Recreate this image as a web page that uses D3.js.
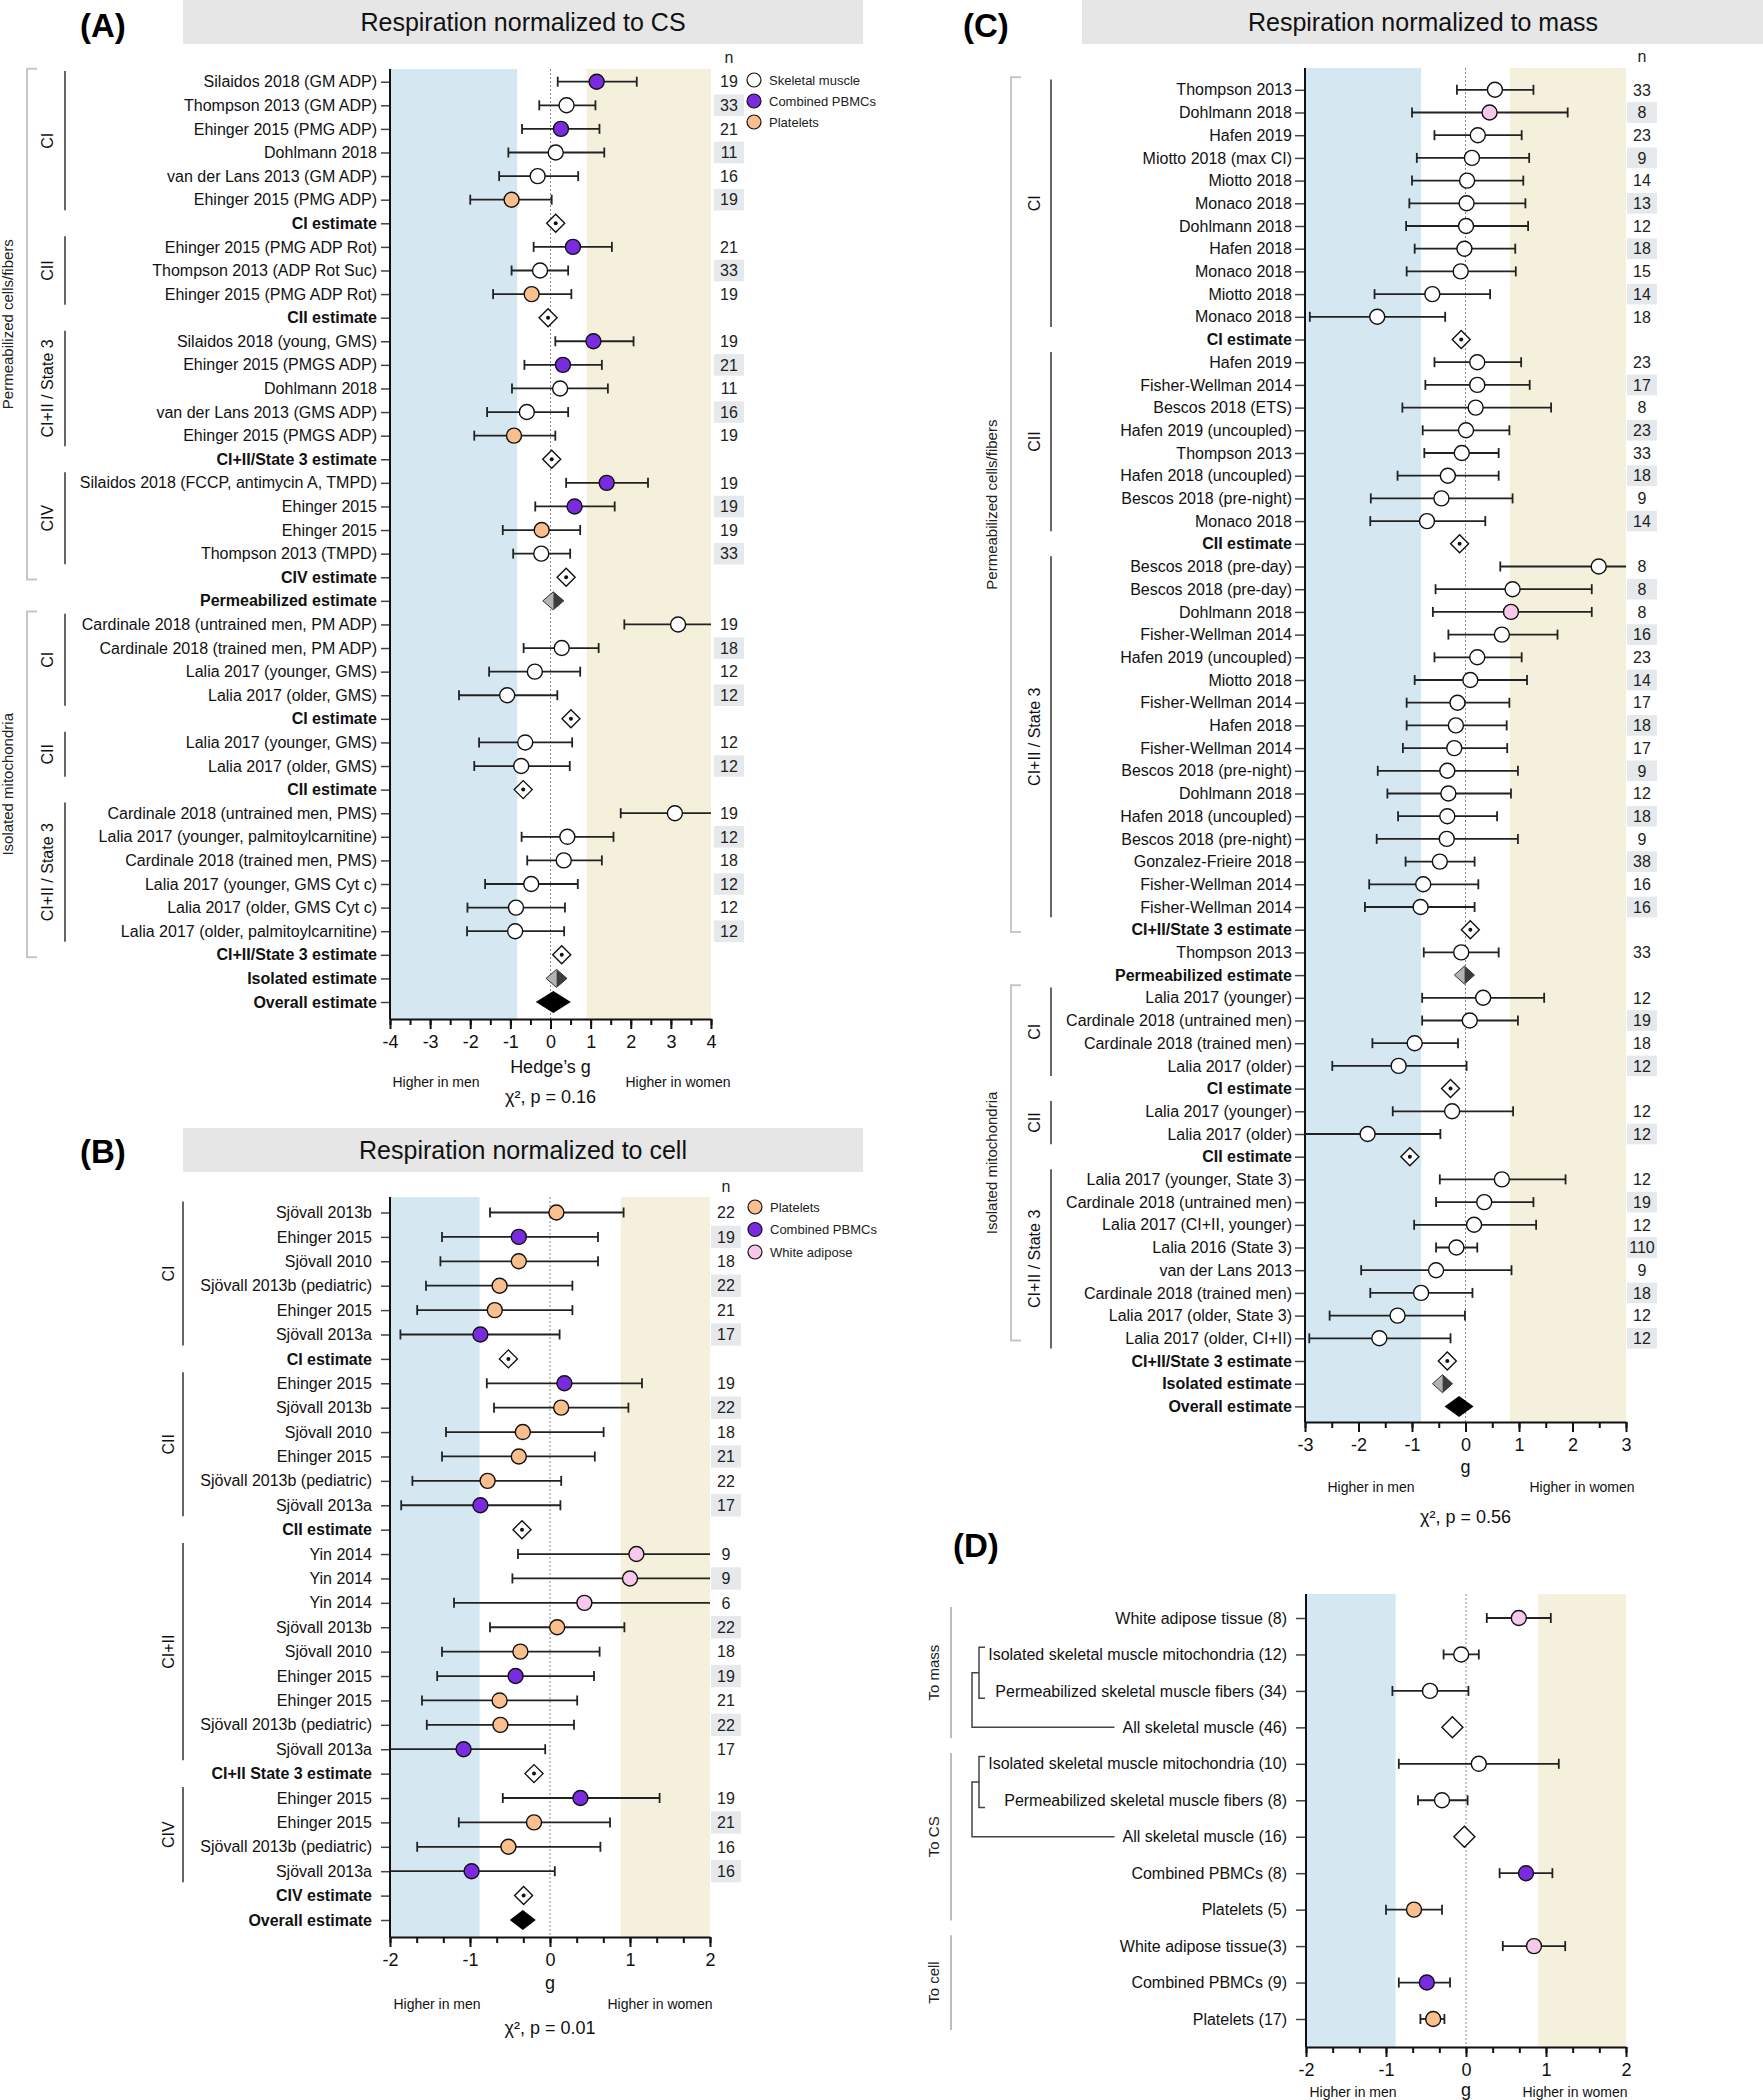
<!DOCTYPE html>
<html><head><meta charset="utf-8">
<script src="https://cdn.jsdelivr.net/npm/d3@7"></script>
<style>body{margin:0;background:#fff;} svg text{font-family:"Liberation Sans",Arial,Helvetica,sans-serif;}</style>
</head><body>
<svg id="c" width="1763" height="2100"></svg>
<script>
// ---------------- DATA ----------------
// kinds: S skeletal muscle, P combined PBMCs, L platelets, W white adipose,
//        E subgroup estimate, H cell-prep estimate, O overall estimate, D pooled tissue estimate
const A_labels = ["Silaidos 2018 (GM ADP)","Thompson 2013 (GM ADP)","Ehinger 2015 (PMG ADP)","Dohlmann 2018","van der Lans 2013 (GM ADP)","Ehinger 2015 (PMG ADP)","CI estimate",
"Ehinger 2015 (PMG ADP Rot)","Thompson 2013 (ADP Rot Suc)","Ehinger 2015 (PMG ADP Rot)","CII estimate",
"Silaidos 2018 (young, GMS)","Ehinger 2015 (PMGS ADP)","Dohlmann 2018","van der Lans 2013 (GMS ADP)","Ehinger 2015 (PMGS ADP)","CI+II/State 3 estimate",
"Silaidos 2018 (FCCP, antimycin A, TMPD)","Ehinger 2015","Ehinger 2015","Thompson 2013 (TMPD)","CIV estimate",
"Permeabilized estimate",
"Cardinale 2018 (untrained men, PM ADP)","Cardinale 2018 (trained men, PM ADP)","Lalia 2017 (younger, GMS)","Lalia 2017 (older, GMS)","CI estimate",
"Lalia 2017 (younger, GMS)","Lalia 2017 (older, GMS)","CII estimate",
"Cardinale 2018 (untrained men, PMS)","Lalia 2017 (younger, palmitoylcarnitine)","Cardinale 2018 (trained men, PMS)","Lalia 2017 (younger, GMS Cyt c)","Lalia 2017 (older, GMS Cyt c)","Lalia 2017 (older, palmitoylcarnitine)","CI+II/State 3 estimate",
"Isolated estimate","Overall estimate"];
const A_kind = "PSPSSLEPSLEPPSSLEPPLSEHSSSSESSESSSSSSEHO".split("");
const A_g  = [1.15,0.40,0.26,0.13,-0.32,-0.97,0.13, 0.56,-0.26,-0.47,-0.06, 1.07,0.31,0.24,-0.59,-0.91,0.03, 1.40,0.60,-0.22,-0.23,0.39, 0.07, 3.18,0.28,-0.39,-1.08,0.51, -0.63,-0.73,-0.68, 3.10,0.42,0.33,-0.48,-0.86,-0.88,0.28, 0.15,0.07];
const A_lo = [0.18,-0.28,-0.71,-1.05,-1.28,-2.00,null, -0.42,-0.97,-1.43,null, 0.12,-0.65,-0.96,-1.58,-1.90,null, 0.39,-0.38,-1.19,-0.93,null, null, 1.84,-0.67,-1.53,-2.28,null, -1.78,-1.90,null, 1.75,-0.72,-0.58,-1.63,-2.07,-2.08,null, null,null];
const A_hi = [2.15,1.12,1.22,1.34,0.69,0.03,null, 1.53,0.44,0.52,null, 2.07,1.28,1.43,0.44,0.12,null, 2.43,1.60,0.74,0.49,null, null, 4.60,1.20,0.74,0.17,null, 0.54,0.48,null, 4.50,1.57,1.28,0.68,0.36,0.34,null, null,null];
const A_n  = [19,33,21,11,16,19,null, 21,33,19,null, 19,21,11,16,19,null, 19,19,19,33,null, null, 19,18,12,12,null, 12,12,null, 19,12,18,12,12,12,null, null,null];
const A_inner = [["CI",0,5],["CII",7,9],["CI+II / State 3",11,15],["CIV",17,20],["CI",23,26],["CII",28,29],["CI+II / State 3",31,36]];
const A_outer = [["Permeabilized cells/fibers",0,21],["Isolated mitochondria",23,37]];
const A_bands = [-0.83, 0.90];
const A_ticks = [-4,-3,-2,-1,0,1,2,3,4];
const A_legend = [["S","Skeletal muscle"],["P","Combined PBMCs"],["L","Platelets"]];

const B_labels = ["Sjövall 2013b","Ehinger 2015","Sjövall 2010","Sjövall 2013b (pediatric)","Ehinger 2015","Sjövall 2013a","CI estimate",
"Ehinger 2015","Sjövall 2013b","Sjövall 2010","Ehinger 2015","Sjövall 2013b (pediatric)","Sjövall 2013a","CII estimate",
"Yin 2014","Yin 2014","Yin 2014","Sjövall 2013b","Sjövall 2010","Ehinger 2015","Ehinger 2015","Sjövall 2013b (pediatric)","Sjövall 2013a","CI+II State 3 estimate",
"Ehinger 2015","Ehinger 2015","Sjövall 2013b (pediatric)","Sjövall 2013a","CIV estimate","Overall estimate"];
const B_kind = "LPLLLPEPLLLLPEWWWLLPLLPEPLLPEO".split("");
const B_g  = [0.08,-0.39,-0.39,-0.63,-0.69,-0.87,-0.52, 0.18,0.14,-0.34,-0.39,-0.78,-0.87,-0.35, 1.08,1.00,0.43,0.09,-0.37,-0.43,-0.63,-0.62,-1.08,-0.20, 0.38,-0.20,-0.52,-0.98,-0.33, -0.34];
const B_lo = [-0.75,-1.35,-1.37,-1.55,-1.66,-1.87,null, -0.79,-0.70,-1.30,-1.35,-1.72,-1.86,null, -0.40,-0.47,-1.20,-0.75,-1.35,-1.41,-1.60,-1.54,-2.20,null, -0.59,-1.14,-1.66,-2.20,null, null];
const B_hi = [0.92,0.60,0.60,0.28,0.28,0.12,null, 1.15,0.98,0.67,0.56,0.14,0.13,null, 2.60,2.60,2.60,0.93,0.62,0.55,0.34,0.30,-0.06,null, 1.37,0.75,0.63,0.06,null, null];
const B_n  = [22,19,18,22,21,17,null, 19,22,18,21,22,17,null, 9,9,6,22,18,19,21,22,17,null, 19,21,16,16,null, null];
const B_inner = [["CI",0,5],["CII",7,12],["CI+II",14,22],["CIV",24,27]];
const B_bands = [-0.88, 0.885];
const B_ticks = [-2,-1,0,1,2];
const B_legend = [["L","Platelets"],["P","Combined PBMCs"],["W","White adipose"]];

const C_labels = ["Thompson 2013","Dohlmann 2018","Hafen 2019","Miotto 2018 (max CI)","Miotto 2018","Monaco 2018","Dohlmann 2018","Hafen 2018","Monaco 2018","Miotto 2018","Monaco 2018","CI estimate",
"Hafen 2019","Fisher-Wellman 2014","Bescos 2018 (ETS)","Hafen 2019 (uncoupled)","Thompson 2013","Hafen 2018 (uncoupled)","Bescos 2018 (pre-night)","Monaco 2018","CII estimate",
"Bescos 2018 (pre-day)","Bescos 2018 (pre-day)","Dohlmann 2018","Fisher-Wellman 2014","Hafen 2019 (uncoupled)","Miotto 2018","Fisher-Wellman 2014","Hafen 2018","Fisher-Wellman 2014","Bescos 2018 (pre-night)","Dohlmann 2018","Hafen 2018 (uncoupled)","Bescos 2018 (pre-night)","Gonzalez-Frieire 2018","Fisher-Wellman 2014","Fisher-Wellman 2014","CI+II/State 3 estimate",
"Thompson 2013","Permeabilized estimate",
"Lalia 2017 (younger)","Cardinale 2018 (untrained men)","Cardinale 2018 (trained men)","Lalia 2017 (older)","CI estimate",
"Lalia 2017 (younger)","Lalia 2017 (older)","CII estimate",
"Lalia 2017 (younger, State 3)","Cardinale 2018 (untrained men)","Lalia 2017 (CI+II, younger)","Lalia 2016 (State 3)","van der Lans 2013","Cardinale 2018 (trained men)","Lalia 2017 (older, State 3)","Lalia 2017 (older, CI+II)","CI+II/State 3 estimate",
"Isolated estimate","Overall estimate"];
const C_kind = ("SWSSSSSSSSSE"+"SSSSSSSSE"+"SSWSSSSSSSSSSSSSE"+"SH"+"SSSSE"+"SSE"+"SSSSSSSSE"+"HO").split("");
const C_g  = [0.55,0.45,0.23,0.12,0.03,0.02,0.01,-0.02,-0.09,-0.62,-1.65,-0.08,
0.22,0.22,0.19,0.01,-0.07,-0.33,-0.45,-0.72,-0.11,
2.49,0.88,0.85,0.68,0.22,0.09,-0.15,-0.18,-0.21,-0.34,-0.32,-0.34,-0.35,-0.48,-0.79,-0.84,0.09,
-0.08,-0.02,
0.33,0.08,-0.95,-1.25,-0.28,
-0.25,-1.83,-1.04,
0.68,0.35,0.16,-0.17,-0.55,-0.83,-1.27,-1.61,-0.34,
-0.43,-0.12];
const C_lo = [-0.16,-1.00,-0.58,-0.91,-1.00,-1.05,-1.11,-0.95,-1.10,-1.70,-2.91,null,
-0.58,-0.75,-1.18,-0.80,-0.77,-1.27,-1.77,-1.78,null,
0.65,-0.56,-0.61,-0.32,-0.58,-0.95,-1.10,-1.10,-1.17,-1.64,-1.46,-1.26,-1.66,-1.12,-1.80,-1.88,null,
-0.78,null,
-0.81,-0.81,-1.74,-2.49,null,
-1.36,-3.20,null,
-0.48,-0.55,-0.96,-0.55,-1.95,-1.78,-2.54,-2.92,null,
null,null];
const C_hi = [1.27,1.91,1.05,1.19,1.08,1.12,1.17,0.93,0.94,0.46,-0.38,null,
1.04,1.20,1.60,0.82,0.62,0.62,0.88,0.37,null,
3.40,2.36,2.36,1.72,1.05,1.15,0.82,0.77,0.78,0.98,0.85,0.59,0.98,0.17,0.24,0.17,null,
0.62,null,
1.47,0.98,-0.14,0.02,null,
0.89,-0.47,null,
1.87,1.27,1.32,0.22,0.86,0.13,-0.01,-0.28,null,
null,null];
const C_n  = [33,8,23,9,14,13,12,18,15,14,18,null,
23,17,8,23,33,18,9,14,null,
8,8,8,16,23,14,17,18,17,9,12,18,9,38,16,16,null,
33,null,
12,19,18,12,null,
12,12,null,
12,19,12,110,9,18,12,12,null,
null,null];
const C_inner = [["CI",0,10],["CII",12,19],["CI+II / State 3",21,36],["CI",40,43],["CII",45,46],["CI+II / State 3",48,55]];
const C_outer = [["Permeabilized cells/fibers",0,37],["Isolated mitochondria",40,55]];
const C_bands = [-0.83, 0.83];
const C_ticks = [-3,-2,-1,0,1,2,3];

const D_labels = ["White adipose tissue (8)","Isolated skeletal muscle mitochondria (12)","Permeabilized skeletal muscle fibers (34)","All skeletal muscle (46)","Isolated skeletal muscle mitochondria (10)","Permeabilized skeletal muscle fibers (8)","All skeletal muscle (16)","Combined PBMCs (8)","Platelets (5)","White adipose tissue(3)","Combined PBMCs (9)","Platelets (17)"];
const D_kind = "WSSDSSDPLWPL".split("");
const D_g  = [0.66,-0.06,-0.45,-0.17,0.16,-0.30,-0.02,0.75,-0.65,0.85,-0.49,-0.41];
const D_lo = [0.26,-0.28,-0.92,null,-0.84,-0.60,null,0.42,-1.00,0.46,-0.84,-0.57];
const D_hi = [1.06,0.16,0.03,null,1.16,0.02,null,1.08,-0.30,1.24,-0.20,-0.27];
const D_groups = [["To mass",0,3],["To CS",4,8],["To cell",9,11]];
const D_sub = [[1,2,3],[4,5,6]];
const D_bands = [-0.88, 0.90];
const D_ticks = [-2,-1,0,1,2];

// ---------------- DRAWING ----------------
const svg = d3.select("#c");
const FILL = {S:"#ffffff", P:"#7a2be0", L:"#fbbf8d", W:"#f8c8ec"};
const INK = "#111";

function diamond(g, cx, cy, hw, hh) {
  return g.append("polygon").attr("points", [[cx,cy-hh],[cx+hw,cy],[cx,cy+hh],[cx-hw,cy]].map(p=>p.join(",")).join(" "));
}

function panel(o) {
  const g = svg.append("g");
  const N = o.labels.length, idx = d3.range(N);
  const [d0, d1] = o.domain;
  const x = d3.scaleLinear().domain(o.domain).range(o.xr);
  const y = d3.scalePoint().domain(idx).range(o.yr);
  const step = y.step();
  // bands
  g.append("rect").attr("x", x(d0)).attr("y", o.top).attr("width", x(o.bands[0]) - x(d0)).attr("height", o.axisY - o.top).attr("fill", "#d5e7f1");
  g.append("rect").attr("x", x(o.bands[1])).attr("y", o.top).attr("width", x(d1) - x(o.bands[1])).attr("height", o.axisY - o.top).attr("fill", "#f5f0dc");
  // zero line
  g.append("line").attr("x1", x(0)).attr("x2", x(0)).attr("y1", o.top).attr("y2", o.axisY)
    .attr("stroke", "#8a8a8a").attr("stroke-width", 1).attr("stroke-dasharray", "2,2");
  // left axis with row labels
  const la = d3.axisLeft(y).tickSize(o.tickLen).tickPadding(o.pad).tickFormat(i => o.labels[i]);
  const lag = g.append("g").attr("transform", `translate(${x(d0)},0)`).call(la);
  lag.select(".domain").remove();
  lag.selectAll(".tick line").attr("stroke", "#444").attr("stroke-width", 1.5);
  lag.selectAll(".tick text").attr("font-size", 16).attr("fill", INK)
    .style("font-family", '"Liberation Sans",Arial,sans-serif')
    .attr("font-weight", i => "EHO".includes(o.kind[i]) ? "bold" : "normal");
  g.append("line").attr("x1", x(d0)).attr("x2", x(d0)).attr("y1", o.top).attr("y2", o.axisY).attr("stroke", INK).attr("stroke-width", 2);
  // n column
  if (o.n) {
    let run = 0;
    const shaded = idx.map(i => { if (o.n[i] == null) { run = 0; return false; } const s = run % 2 === 1; run++; return s; });
    idx.filter(i => shaded[i]).forEach(i => {
      g.append("rect").attr("x", o.nX - 15).attr("y", y(i) - step/2 + 1).attr("width", 30).attr("height", step - 2).attr("fill", "#e6e9ec");
    });
    idx.filter(i => o.n[i] != null).forEach(i => {
      g.append("text").attr("x", o.nX).attr("y", y(i)).attr("dy", "0.36em").attr("text-anchor", "middle")
        .attr("font-size", 16).attr("fill", "#222").text(o.n[i]);
    });
    g.append("text").attr("x", o.nX).attr("y", o.nHeadY).attr("text-anchor", "middle").attr("font-size", 16).attr("fill", "#222").text("n");
  }
  // error bars
  idx.filter(i => o.lo[i] != null).forEach(i => {
    const lo = Math.max(o.lo[i], d0), hi = Math.min(o.hi[i], d1), yy = y(i);
    g.append("line").attr("x1", x(lo)).attr("x2", x(hi)).attr("y1", yy).attr("y2", yy).attr("stroke", "#222").attr("stroke-width", 1.8);
    if (o.lo[i] >= d0) g.append("line").attr("x1", x(lo)).attr("x2", x(lo)).attr("y1", yy - 5).attr("y2", yy + 5).attr("stroke", "#222").attr("stroke-width", 1.8);
    if (o.hi[i] <= d1) g.append("line").attr("x1", x(hi)).attr("x2", x(hi)).attr("y1", yy - 5).attr("y2", yy + 5).attr("stroke", "#222").attr("stroke-width", 1.8);
  });
  // markers
  idx.forEach(i => {
    const k = o.kind[i], cx = x(o.g[i]), cy = y(i);
    if (FILL[k]) {
      g.append("circle").attr("cx", cx).attr("cy", cy).attr("r", 7.5).attr("fill", FILL[k]).attr("stroke", INK).attr("stroke-width", 1.4);
    } else if (k === "E") {
      diamond(g, cx, cy, 9, 9).attr("fill", "#fff").attr("stroke", INK).attr("stroke-width", 1.4);
      g.append("circle").attr("cx", cx).attr("cy", cy).attr("r", 2).attr("fill", INK);
    } else if (k === "H") {
      const hw = o.hw, hh = o.hh;
      g.append("polygon").attr("points", `${cx},${cy-hh} ${cx-hw},${cy} ${cx},${cy+hh}`).attr("fill", "#b3b3b3");
      g.append("polygon").attr("points", `${cx},${cy-hh} ${cx+hw},${cy} ${cx},${cy+hh}`).attr("fill", "#3d3d3d");
      diamond(g, cx, cy, hw, hh).attr("fill", "none").attr("stroke", "#333").attr("stroke-width", 1);
    } else if (k === "O") {
      diamond(g, cx, cy, o.ow, o.oh).attr("fill", "#000");
    } else if (k === "D") {
      diamond(g, cx, cy, 10.5, 10.5).attr("fill", "#fff").attr("stroke", INK).attr("stroke-width", 1.4);
    }
  });
  // x axis
  const minors = d3.range(Math.round((d1 - d0) / o.minor) + 1).map(j => d0 + j * o.minor);
  const mg = g.append("g").attr("transform", `translate(0,${o.axisY})`)
    .call(d3.axisBottom(x).tickValues(minors).tickSize(6).tickSizeOuter(0).tickFormat(""));
  mg.select(".domain").remove();
  mg.selectAll(".tick line").attr("stroke", INK).attr("stroke-width", 2);
  const xg = g.append("g").attr("transform", `translate(0,${o.axisY})`)
    .call(d3.axisBottom(x).tickValues(o.ticks).tickSize(10).tickSizeOuter(0).tickPadding(6).tickFormat(d => String(d)));
  xg.select(".domain").attr("stroke", INK).attr("stroke-width", 2.2);
  xg.selectAll(".tick line").attr("stroke", INK).attr("stroke-width", 2);
  xg.selectAll(".tick text").attr("font-size", 18).attr("fill", INK).style("font-family", '"Liberation Sans",Arial,sans-serif');
  // inner groups
  (o.inner || []).forEach(([lab, a, b]) => {
    const y1 = y(a) - 0.45 * step, y2 = y(b) + 0.45 * step;
    g.append("line").attr("x1", o.innerX).attr("x2", o.innerX).attr("y1", y1).attr("y2", y2).attr("stroke", "#333").attr("stroke-width", 1.5);
    g.append("text").attr("transform", `translate(${o.innerLX},${(y1 + y2) / 2}) rotate(-90)`).attr("text-anchor", "middle")
      .attr("dy", "0.36em").attr("font-size", 16).attr("fill", INK).text(lab);
  });
  // outer groups
  (o.outer || []).forEach(([lab, a, b]) => {
    const y1 = y(a) - 0.55 * step, y2 = y(b) + 0.1 * step;
    g.append("path").attr("d", `M${o.outerX + 10},${y1}H${o.outerX}V${y2}H${o.outerX + 10}`).attr("fill", "none").attr("stroke", "#c6c6c6").attr("stroke-width", 2);
    g.append("text").attr("transform", `translate(${o.outerLX},${(y1 + y2) / 2}) rotate(-90)`).attr("text-anchor", "middle")
      .attr("dy", "0.36em").attr("font-size", 15).attr("fill", "#222").text(lab);
  });
  // legend
  (o.legend || []).forEach(([k, lab], j) => {
    const ly = o.legY + j * o.legStep;
    g.append("circle").attr("cx", o.legX).attr("cy", ly).attr("r", 7).attr("fill", FILL[k]).attr("stroke", INK).attr("stroke-width", 1.2);
    g.append("text").attr("x", o.legX + 15).attr("y", ly).attr("dy", "0.36em").attr("font-size", 13).attr("fill", "#222").text(lab);
  });
  // bottom texts
  const bt = (tx, ty, s, fs) => g.append("text").attr("x", tx).attr("y", ty).attr("text-anchor", "middle").attr("dy", "0.36em").attr("font-size", fs).attr("fill", INK).text(s);
  bt(x(0), o.gY, o.gLabel, 18);
  bt(o.menX, o.hY, "Higher in men", 14);
  bt(o.womenX, o.hY, "Higher in women", 14);
  if (o.chi) bt(x(0), o.chiY, o.chi, 18);
  return {g, x, y, step};
}

function header(letter, lx, ly, bx, by, bw, title, tx) {
  svg.append("text").attr("x", lx).attr("y", ly).attr("font-size", 33).attr("font-weight", "bold").attr("fill", "#000").text(letter);
  if (title) {
    svg.append("rect").attr("x", bx).attr("y", by).attr("width", bw).attr("height", 44).attr("fill", "#e6e6e6");
    svg.append("text").attr("x", tx).attr("y", by + 22).attr("dy", "0.36em").attr("text-anchor", "middle").attr("font-size", 25).attr("fill", "#111").text(title);
  }
}

header("(A)", 80, 37, 183, 0, 680, "Respiration normalized to CS", 523);
header("(B)", 80, 1163, 183, 1128, 680, "Respiration normalized to cell", 523);
header("(C)", 963, 37, 1082, 0, 681, "Respiration normalized to mass", 1423);
header("(D)", 953, 1557, 0, 0, 0, null, 0);

panel({labels:A_labels, kind:A_kind, g:A_g, lo:A_lo, hi:A_hi, n:A_n, inner:A_inner, outer:A_outer, bands:A_bands, ticks:A_ticks, legend:A_legend,
  domain:[-4,4], xr:[390,711], yr:[81.7,1002], top:69, axisY:1019, tickLen:9, pad:4, minor:0.5,
  innerX:65, innerLX:47, outerX:27, outerLX:8, nX:729, nHeadY:63, ow:17.5, oh:11, hw:10.5, hh:9,
  legX:754, legY:80, legStep:21, gLabel:"Hedge’s g", gY:1067, hY:1082, menX:436, womenX:678, chi:"χ², p = 0.16", chiY:1097});

panel({labels:B_labels, kind:B_kind, g:B_g, lo:B_lo, hi:B_hi, n:B_n, inner:B_inner, bands:B_bands, ticks:B_ticks, legend:B_legend,
  domain:[-2,2], xr:[390,710], yr:[1212.5,1920], top:1197, axisY:1937, tickLen:9, pad:9, minor:1/3,
  innerX:183, innerLX:168, nX:726, nHeadY:1192, ow:13, oh:10, hw:10, hh:9,
  legX:755, legY:1207, legStep:22.5, gLabel:"g", gY:1983, hY:2004, menX:437, womenX:660, chi:"χ², p = 0.01", chiY:2028});

panel({labels:C_labels, kind:C_kind, g:C_g, lo:C_lo, hi:C_hi, n:C_n, inner:C_inner, outer:C_outer, bands:C_bands, ticks:C_ticks,
  domain:[-3,3], xr:[1305,1626], yr:[89.8,1406.4], top:68, axisY:1422, tickLen:10, pad:3, minor:0.5,
  innerX:1051, innerLX:1034, outerX:1011, outerLX:992, nX:1642, nHeadY:62, ow:14.5, oh:10.5, hw:10, hh:9,
  gLabel:"g", gY:1467, hY:1487, menX:1371, womenX:1582, chi:"χ², p = 0.56", chiY:1517});

const pd = panel({labels:D_labels, kind:D_kind, g:D_g, lo:D_lo, hi:D_hi, n:null, bands:D_bands, ticks:D_ticks,
  domain:[-2,2], xr:[1306,1626], yr:[1618,2019], top:1594, axisY:2047, tickLen:10, pad:9, minor:1/3,
  ow:13, oh:10, hw:10, hh:9,
  gLabel:"g", gY:2090, hY:2092, menX:1353, womenX:1575, chi:null});

// panel D grouping annotations
(function(){
  const {g, y, step} = pd;
  D_groups.forEach(([lab, a, b]) => {
    const y1 = y(a) - 0.3 * step, y2 = y(b) + 0.3 * step;
    g.append("line").attr("x1", 951).attr("x2", 951).attr("y1", y1).attr("y2", y2).attr("stroke", "#bdbdbd").attr("stroke-width", 2);
    g.append("text").attr("transform", `translate(934,${(y1 + y2) / 2}) rotate(-90)`).attr("text-anchor", "middle")
      .attr("dy", "0.36em").attr("font-size", 15).attr("fill", "#222").text(lab);
  });
  // label starts for "All skeletal muscle" rows
  const texts = g.selectAll(".tick text").nodes();
  D_sub.forEach(([a, b, c]) => {
    const y1 = y(a) - 0.2 * step, y2 = y(b) + 0.2 * step, ym = (y(a) + y(b)) / 2;
    g.append("path").attr("d", `M985,${y1}H979V${y2}H985`).attr("fill", "none").attr("stroke", "#444").attr("stroke-width", 1.5);
    const tn = texts[c];
    const start = 1306 - 19 - tn.getComputedTextLength();
    g.append("path").attr("d", `M979,${ym}H972V${y(c)}H${start - 8}`).attr("fill", "none").attr("stroke", "#444").attr("stroke-width", 1.5);
  });
})();
</script>
</body></html>
